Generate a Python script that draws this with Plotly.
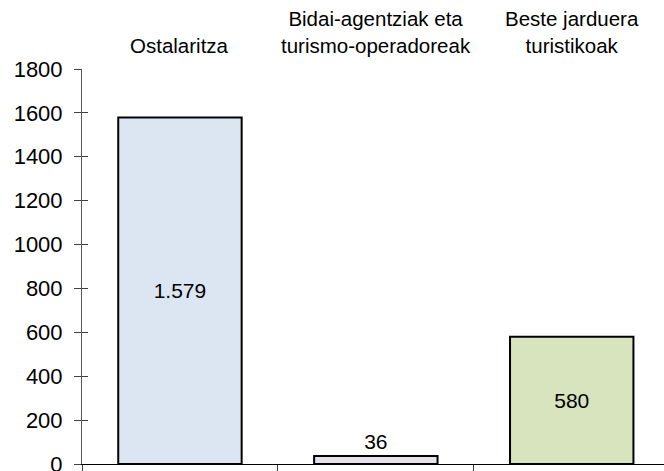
import plotly.graph_objects as go

categories = ["Ostalaritza", "Bidai-agentziak eta<br>turismo-operadoreak", "Beste jarduera<br>turistikoak"]
values = [1579, 36, 580]
colors = ["#DCE6F2", "#E6E0EC", "#D7E4BD"]
text_positions = ["inside", "outside", "inside"]
y_ticks = [0, 200, 400, 600, 800, 1000, 1200, 1400, 1600, 1800]

FONT = "Liberation Sans, Arial, sans-serif"

fig = go.Figure()
fig.add_trace(go.Bar(
    x=categories, y=values,
    marker=dict(color=colors, line=dict(color="#000000", width=2)),
    width=0.63,
    texttemplate="%{y:,}",
    textposition=text_positions,
    insidetextanchor="middle",
    textfont=dict(family=FONT, size=21, color="#000000"),
    cliponaxis=False,
    showlegend=False,
))

for c in categories:
    fig.add_annotation(x=c, y=1, xref="x", yref="paper", text=c, showarrow=False,
                       yanchor="bottom", yshift=10,
                       font=dict(family=FONT, size=20.5, color="#000000"))

fig.update_layout(
    width=664, height=471,
    margin=dict(l=82, r=0, t=69, b=7, autoexpand=False),
    paper_bgcolor="white", plot_bgcolor="white",
    separators=",.",
    xaxis=dict(type="category", range=[-0.5, 2.471], showline=True, linecolor="#000000", linewidth=1,
               ticks="outside", tickson="boundaries", ticklen=7, tickcolor="#404040",
               showticklabels=False, showgrid=False, zeroline=False, fixedrange=True,
               automargin=False),
    yaxis=dict(range=[0, 1800], tickvals=y_ticks, showline=True, linecolor="#595959", linewidth=1,
               ticks="outside", ticklen=7, tickcolor="#404040", showgrid=False, zeroline=False,
               tickfont=dict(family=FONT, size=22, color="#000000"), ticklabelstandoff=7,
               ticklabeloverflow="allow", automargin=False),
    yaxis2=dict(range=[0, 1800], tickvals=y_ticks, overlaying="y", side="left", showline=False,
                ticks="inside", ticklen=6, tickcolor="#404040", showticklabels=False,
                showgrid=False, zeroline=False, automargin=False),
)
# invisible trace to activate yaxis2
fig.add_trace(go.Scatter(x=[categories[0]], y=[0], yaxis="y2", mode="markers",
                         marker=dict(opacity=0), showlegend=False, hoverinfo="skip"))

fig.write_html("out.html", config={"displayModeBar": False},
               post_script="document.body.style.margin='0';document.body.style.overflow='hidden';")
